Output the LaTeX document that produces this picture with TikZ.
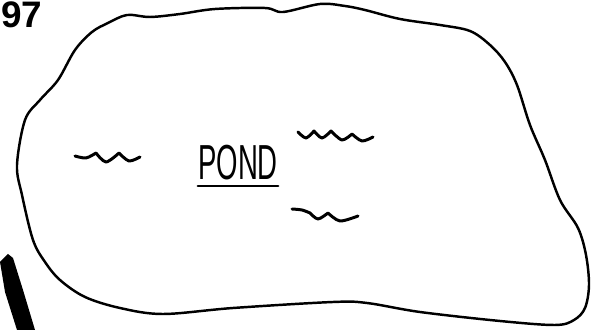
\documentclass[tikz,border=0pt]{standalone}
\usepackage{fontspec}
\newfontfamily\handfont[FakeStretch=0.56]{Liberation Sans}
\newfontfamily\numfont{Liberation Sans}
\usepackage{tikz}

\begin{document}
\begin{tikzpicture}[x=0.02cm, y=-0.02cm,
    shore/.style={line width=1.4pt, line join=round},
    wave/.style={line width=1.7pt, line cap=round, line join=round}]
  \useasboundingbox (0,0) rectangle (595,330);
  % --- the pond outline ---
  \draw[shore] plot[smooth cycle, tension=0.55] coordinates {
    (58,80) (75,50) (92,32) (108,23) (127,15) (150,17) (180,14) (215,9)
    (265,8) (283,12) (320,4) (345,6) (365,10) (400,19) (440,25) (470,31)
    (490,45) (505,62) (517,85) (530,125) (545,160) (560,200) (578,228)
    (586,255) (589,285) (585,308) (574,320) (555,325) (500,321) (420,312)
    (367,303) (333,302) (233,308) (163,314) (120,308) (85,297) (60,280)
    (45,262) (33,240) (22,195) (17,165) (25,120) (40,100)};
  % --- waves ---
  \draw[wave] plot[smooth] coordinates {(75,156) (86,158) (96,153)}
    -- plot[smooth] coordinates {(96,153) (106,162) (119,153)}
    -- plot[smooth] coordinates {(119,153) (129,161) (140,157)};
  \draw[wave] plot[smooth] coordinates {(298,132) (306,138) (314,131)}
    -- plot[smooth] coordinates {(314,131) (322,138) (331,131)}
    -- plot[smooth] coordinates {(331,131) (342,140) (352,134)}
    -- plot[smooth] coordinates {(352,134) (362,141) (373,137)};
  \draw[wave] plot[smooth] coordinates {(292,209) (302,210) (310,213)}
    -- plot[smooth] coordinates {(310,213) (318,219) (328,213)}
    -- plot[smooth] coordinates {(328,213) (340,221) (358,216)};
  % --- label ---
  \node[font=\handfont\fontsize{28}{30}\selectfont, inner sep=0pt, anchor=base]
    (pond) at (238,180) {POND};
  \draw[line width=1.5pt, line cap=round] ([yshift=-0.12cm]pond.base west)
    -- ([yshift=-0.12cm]pond.base east);
  % --- page number ---
  \node[font=\numfont\bfseries\fontsize{21}{24}\selectfont, inner sep=0pt, anchor=base west]
    (pagenum) at (1,28) {97};
  % --- thick stroke at the lower left ---
  \fill (0,262) -- (8,254) -- (13,258) -- (23,290) -- (35,330) -- (17,330)
    -- (5,292) -- cycle;
\end{tikzpicture}
\end{document}
